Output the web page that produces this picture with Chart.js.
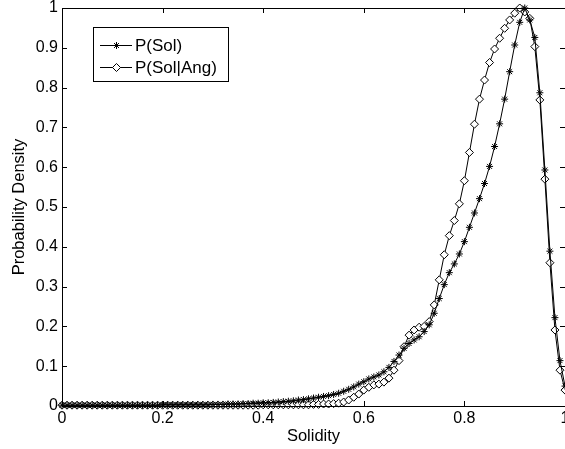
<!DOCTYPE html>
<html><head><meta charset="utf-8">
<script src="https://cdn.jsdelivr.net/npm/chart.js@4.4.0/dist/chart.umd.min.js"></script>
<style>
html,body{margin:0;padding:0;overflow:hidden;background:#fff;width:565px;height:449px}
#wrap{position:absolute;left:0;top:0;width:570px;height:449px}
</style>
</head><body><div id="wrap"><canvas id="c" width="570" height="449"></canvas></div>
<script>
const solidity = [
 0.00,0.01,0.02,0.03,0.04,0.05,0.06,0.07,0.08,0.09,
 0.10,0.11,0.12,0.13,0.14,0.15,0.16,0.17,0.18,0.19,
 0.20,0.21,0.22,0.23,0.24,0.25,0.26,0.27,0.28,0.29,
 0.30,0.31,0.32,0.33,0.34,0.35,0.36,0.37,0.38,0.39,
 0.40,0.41,0.42,0.43,0.44,0.45,0.46,0.47,0.48,0.49,
 0.50,0.51,0.52,0.53,0.54,0.55,0.56,0.57,0.58,0.59,
 0.60,0.61,0.62,0.63,0.64,0.65,0.66,0.67,0.68,0.69,
 0.70,0.71,0.72,0.73,0.74,0.75,0.76,0.77,0.78,0.79,
 0.80,0.81,0.82,0.83,0.84,0.85,0.86,0.87,0.88,0.89,
 0.90,0.91,0.92,0.93,0.94,0.95,0.96,0.97,0.98,0.99,
 1.00];
const pSol = [
 0.002,0.002,0.002,0.002,0.002,0.002,0.002,0.002,0.002,0.002,
 0.002,0.002,0.002,0.002,0.002,0.002,0.002,0.002,0.002,0.002,
 0.003,0.003,0.003,0.003,0.003,0.003,0.003,0.003,0.003,0.003,
 0.004,0.004,0.004,0.005,0.005,0.005,0.006,0.006,0.007,0.007,
 0.008,0.008,0.009,0.010,0.011,0.012,0.013,0.015,0.016,0.018,
 0.020,0.022,0.024,0.026,0.029,0.032,0.037,0.042,0.048,0.055,
 0.061,0.068,0.073,0.078,0.086,0.097,0.112,0.128,0.145,0.157,
 0.166,0.174,0.187,0.204,0.233,0.270,0.305,0.335,0.357,0.382,
 0.413,0.449,0.485,0.521,0.559,0.602,0.652,0.709,0.771,0.840,
 0.907,0.964,1.000,0.970,0.926,0.787,0.593,0.389,0.222,0.114,
 0.050];
const pSolAng = [
 0.002,0.002,0.002,0.002,0.002,0.002,0.002,0.002,0.002,0.002,
 0.002,0.002,0.002,0.002,0.002,0.002,0.002,0.002,0.002,0.002,
 0.002,0.002,0.002,0.002,0.002,0.002,0.002,0.002,0.002,0.002,
 0.002,0.002,0.002,0.002,0.002,0.002,0.002,0.002,0.002,0.002,
 0.003,0.003,0.003,0.003,0.003,0.003,0.003,0.003,0.003,0.003,
 0.004,0.004,0.005,0.005,0.006,0.007,0.010,0.015,0.022,0.030,
 0.040,0.047,0.053,0.055,0.060,0.070,0.090,0.114,0.149,0.178,
 0.191,0.198,0.200,0.212,0.254,0.317,0.380,0.428,0.466,0.508,
 0.566,0.637,0.708,0.771,0.819,0.863,0.897,0.924,0.949,0.970,
 0.987,1.000,0.990,0.974,0.903,0.769,0.570,0.360,0.191,0.090,
 0.040];
const seriesNames = ['P(Sol)', 'P(Sol|Ang)'];
const xTickValues = [0, 0.2, 0.4, 0.6, 0.8, 1];
const yTickValues = [0, 0.1, 0.2, 0.3, 0.4, 0.5, 0.6, 0.7, 0.8, 0.9, 1];
const xTitle = 'Solidity';
const yTitle = 'Probability Density';

const FONT = '"Liberation Sans", Arial, Helvetica, sans-serif';
const fmt = v => String(Number(Number(v).toFixed(1)));
const toPts = arr => solidity.map((x, i) => ({x: x, y: arr[i]}));

const styles = [
  {pointStyle: 'star', radius: 3.5},
  {pointStyle: 'rectRot', radius: 4}
];

const boxPlugin = {
  id: 'matlabBox',
  afterDraw(chart) {
    const ctx = chart.ctx;
    const a = chart.chartArea;
    const xs = chart.scales.x, ys = chart.scales.y;
    const tl = 5;
    ctx.save();
    ctx.strokeStyle = '#000';
    ctx.lineWidth = 1;
    ctx.strokeRect(Math.round(a.left) + 0.5, Math.round(a.top) + 0.5, Math.round(a.right - a.left), Math.round(a.bottom - a.top));
    ctx.beginPath();
    xTickValues.forEach(v => {
      const px = Math.round(xs.getPixelForValue(v)) + 0.5;
      ctx.moveTo(px, a.bottom); ctx.lineTo(px, a.bottom - tl);
      ctx.moveTo(px, a.top); ctx.lineTo(px, a.top + tl);
    });
    yTickValues.forEach(v => {
      const py = Math.round(ys.getPixelForValue(v)) + 0.5;
      ctx.moveTo(a.left, py); ctx.lineTo(a.left + tl, py);
      ctx.moveTo(a.right, py); ctx.lineTo(a.right - tl, py);
    });
    ctx.stroke();

    // legend
    const lx = 93.5, ly = 27.5, lw = 135, lh = 54;
    ctx.fillStyle = '#fff';
    ctx.fillRect(lx, ly, lw, lh);
    ctx.strokeRect(lx, ly, lw, lh);
    const rows = [45, 67];
    ctx.font = '17px ' + FONT;
    ctx.textBaseline = 'middle';
    ctx.textAlign = 'left';
    seriesNames.forEach((name, i) => {
      const y = rows[i];
      ctx.strokeStyle = '#000';
      ctx.lineWidth = 1;
      ctx.beginPath();
      ctx.moveTo(100, y + 0.5); ctx.lineTo(132, y + 0.5);
      ctx.stroke();
      ctx.fillStyle = '#fff';
      Chart.helpers.drawPoint(ctx, {pointStyle: styles[i].pointStyle, radius: styles[i].radius, rotation: 0, borderWidth: 1}, 116.5, y + 0.5);
      ctx.fillStyle = '#000';
      ctx.fillText(name, 135, y + 1);
    });
    ctx.restore();
  }
};

const ds = [pSol, pSolAng].map((arr, i) => ({
  label: seriesNames[i],
  data: toPts(arr),
  showLine: true,
  borderColor: '#000',
  borderWidth: 1,
  backgroundColor: '#fff',
  pointStyle: styles[i].pointStyle,
  pointRadius: styles[i].radius,
  pointBorderColor: '#000',
  pointBackgroundColor: '#fff',
  pointBorderWidth: 1,
  pointHoverRadius: styles[i].radius,
  tension: 0,
  clip: false
}));

new Chart(document.getElementById('c'), {
  type: 'scatter',
  data: {datasets: ds},
  options: {
    responsive: false,
    animation: false,
    devicePixelRatio: 1,
    events: [],
    layout: {padding: {top: 8, right: 3, left: 0, bottom: 0}},
    plugins: {legend: {display: false}, tooltip: {enabled: false}},
    scales: {
      x: {
        type: 'linear', position: 'bottom', min: 0, max: 1,
        grid: {display: false, drawTicks: false},
        border: {display: false},
        ticks: {padding: 3, color: '#000', maxRotation: 0, autoSkip: false,
                font: {family: FONT, size: 16}, callback: fmt},
        title: {display: true, text: xTitle, color: '#000',
                font: {family: FONT, size: 16.5}, padding: {top: 0, bottom: 3}},
        afterBuildTicks(s) { s.ticks = xTickValues.map(v => ({value: v})); },
        afterFit(s) { s.height = 43; s.paddingLeft = 0; s.paddingRight = 0; }
      },
      y: {
        type: 'linear', position: 'left', min: 0, max: 1,
        grid: {display: false, drawTicks: false},
        border: {display: false},
        ticks: {padding: 4, color: '#000', autoSkip: false,
                font: {family: FONT, size: 16}, callback: fmt},
        title: {display: true, text: yTitle, color: '#000',
                font: {family: FONT, size: 16.5}, padding: {top: 10, bottom: 0}},
        afterBuildTicks(s) { s.ticks = yTickValues.map(v => ({value: v})); },
        afterFit(s) { s.width = 62; s.paddingTop = 0; s.paddingBottom = 0; }
      }
    }
  },
  plugins: [boxPlugin]
});
</script>
</body></html>
